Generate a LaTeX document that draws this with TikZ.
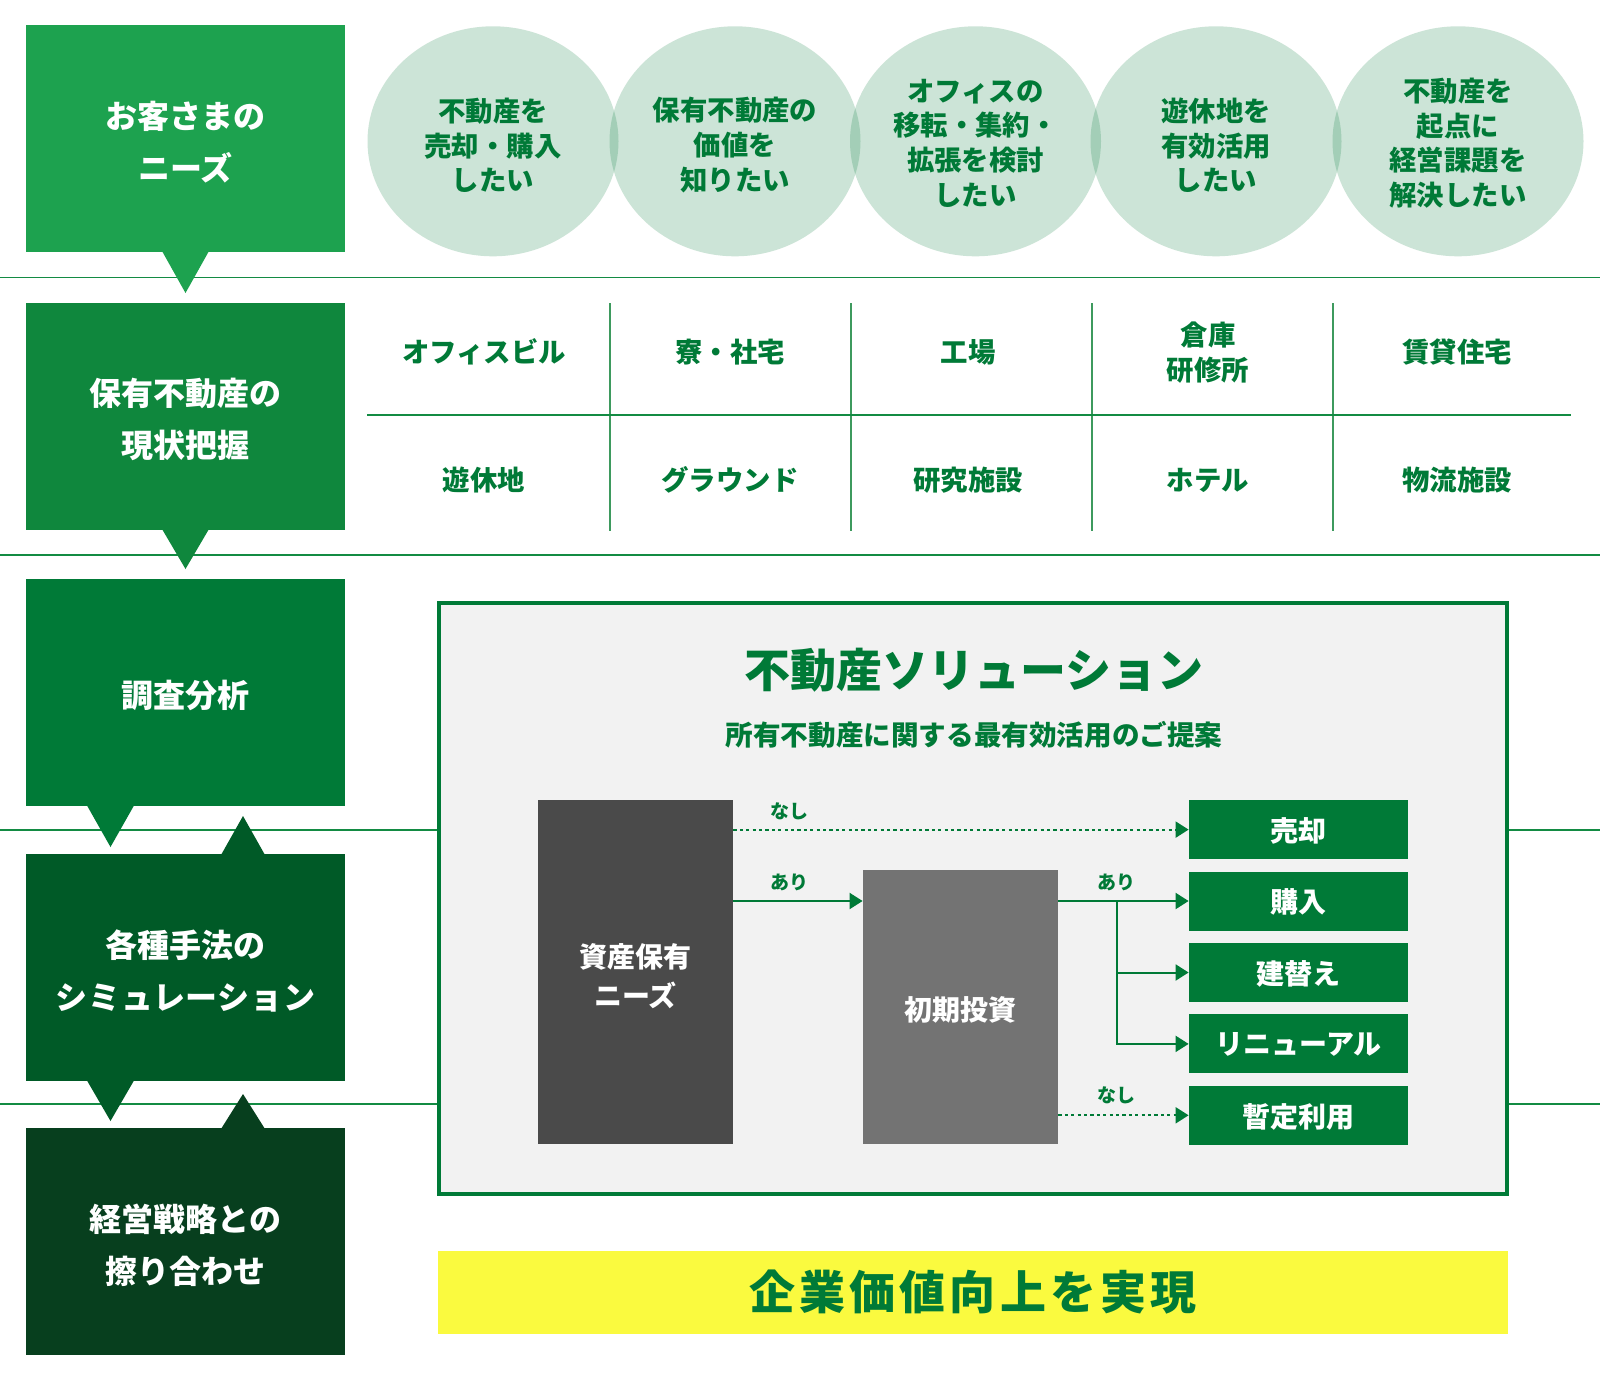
\documentclass[tikz,border=0pt]{standalone}
\usepackage{fontspec}
\setmainfont{Noto Sans CJK JP}
\usetikzlibrary{shapes.geometric,arrows.meta}
\definecolor{g1}{HTML}{1DA24F}
\definecolor{g2}{HTML}{0F873D}
\definecolor{g3}{HTML}{007A37}
\definecolor{g4}{HTML}{005A27}
\definecolor{g5}{HTML}{073F1E}
\definecolor{tg}{HTML}{007A37}
\definecolor{lineg}{HTML}{138B43}
\definecolor{gridg}{HTML}{3E9A5E}
\definecolor{dk}{HTML}{4A4A4A}
\definecolor{md}{HTML}{737373}
\definecolor{panel}{HTML}{F2F2F2}
\definecolor{yel}{HTML}{FAFA3F}
\newlength\pxu
\setlength\pxu{0.5pt}
\tikzset{
  stepbox/.style={minimum width=319\pxu, minimum height=227\pxu, inner sep=0pt},
  steptext/.style={text=white, inner sep=0pt, font=\bfseries\fontsize{16}{26}\selectfont, align=center},
  need/.style={ellipse, minimum width=251\pxu, minimum height=230\pxu, inner sep=0pt,
    fill=g3, fill opacity=0.2},
  needtext/.style={text=tg, inner sep=0pt, font=\bfseries\fontsize{13.7}{17.4}\selectfont, align=center},
  cell/.style={text=tg, font=\bfseries\fontsize{13.7}{17.5}\selectfont, align=center},
  sep/.style={draw=lineg, line width=0.7pt},
  gridline/.style={draw=gridg, line width=0.6pt},
  graybox/.style={minimum width=195\pxu, inner sep=0pt},
  graytext/.style={text=white, inner sep=0pt, font=\bfseries\fontsize{14}{19.4}\selectfont, align=center},
  outbox/.style={fill=g3, minimum width=219\pxu, minimum height=59\pxu, inner sep=0pt,
    text=white, font=\bfseries\fontsize{14}{17}\selectfont, text depth=-0.5pt},
  flow/.style={draw=g3, line width=1pt, -{Triangle[length=6.5pt,width=8pt]}},
  dflow/.style={flow, dash pattern=on 1.6pt off 1.6pt},
  lab/.style={text=tg, font=\bfseries\fontsize{9.5}{11}\selectfont},
}
\begin{document}
\begin{tikzpicture}[x=0.5pt,y=-0.5pt]
\useasboundingbox (0,0) rectangle (1600,1386);
\fill[white] (0,0) rectangle (1600,1386);

% separator lines
\draw[sep] (0,277.5) -- (1600,277.5);
\draw[sep] (0,555) -- (1600,555);
\draw[sep] (0,830) -- (1600,830);
\draw[sep] (0,1104) -- (1600,1104);

% left step boxes
\node[stepbox, fill=g1] (s1) at (185.5,138.8) {};
\node[stepbox, fill=g2] (s2) at (185.5,416.5) {};
\node[stepbox, fill=g3] (s3) at (185.5,692.7) {};
\node[stepbox, fill=g4] (s4) at (185.5,967.8) {};
\node[stepbox, fill=g5] (s5) at (185.5,1241.8) {};
\node[steptext] (t1) at ([yshift=-1.5pt]s1.center) {お客さまの\\ニーズ};
\node[steptext] (t2) at ([yshift=-1.5pt]s2.center) {保有不動産の\\現状把握};
\node[steptext] (t3) at ([yshift=-1.5pt]s3.center) {調査分析};
\node[steptext] (t4) at ([yshift=-1.5pt]s4.center) {各種手法の\\{\addfontfeatures{LetterSpace=2}シミュレーション}};
\node[steptext] (t5) at ([yshift=-1.75pt]s5.center) {経営戦略との\\擦り合わせ};

% pointers
\fill[g1] (162,251) -- (185.5,293) -- (209,251) -- cycle;
\fill[g2] (162,529) -- (185.5,569) -- (209,529) -- cycle;
\fill[g3] (87,805.5) -- (110.5,847) -- (134,805.5) -- cycle;
\fill[g4] (221,855) -- (243,816) -- (265,855) -- cycle;
\fill[g4] (87,1080.5) -- (110.5,1121) -- (134,1080.5) -- cycle;
\fill[g5] (221,1129) -- (243,1094) -- (265,1129) -- cycle;

% needs ellipses
\node[need] (n1) at (493,141.3) {};
\node[need] (n2) at (735,141.3) {};
\node[need] (n3) at (975.5,141.3) {};
\node[need] (n4) at (1216,141.3) {};
\node[need] (n5) at (1458,141.3) {};
\node[needtext] (nt1) at ([yshift=-2pt]n1.center) {不動産を\\売却・購入\\したい};
\node[needtext] (nt2) at ([yshift=-2pt]n2.center) {保有不動産の\\価値を\\知りたい};
\node[needtext] (nt3) at ([yshift=-0.9pt]n3.center) {オフィスの\\移転・集約・\\拡張を検討\\したい};
\node[needtext] (nt4) at ([yshift=-2pt]n4.center) {遊休地を\\有効活用\\したい};
\node[needtext] (nt5) at ([yshift=-0.9pt]n5.center) {不動産を\\起点に\\経営課題を\\解決したい};

% property grid
\draw[gridline] (610,303) -- (610,531);
\draw[gridline] (851,303) -- (851,531);
\draw[gridline] (1092,303) -- (1092,531);
\draw[gridline] (1333,303) -- (1333,531);
\draw[gridline, draw=lineg] (367,415) -- (1571,415);
\node[cell] (c1) at (484,352) {オフィスビル};
\node[cell] (c2) at (730,352) {寮・社宅};
\node[cell] (c3) at (968,352) {工場};
\node[cell] (c4) at (1208,352.5) {倉庫\\研修所};
\node[cell] (c5) at (1457,352) {賃貸住宅};
\node[cell] (c6) at (484,480) {遊休地};
\node[cell] (c7) at (730,480) {グラウンド};
\node[cell] (c8) at (968,480) {研究施設};
\node[cell] (c9) at (1208,480) {ホテル};
\node[cell] (c10) at (1457,480) {物流施設};

% solution panel
\node[draw=g3, line width=2pt, fill=panel, minimum width=1068\pxu, minimum height=591\pxu, inner sep=0pt] (panel) at (973,898.5) {};
\node[text=tg, font=\bfseries\fontsize{23}{27}\selectfont] (title) at (974,670) {不動産ソリューション};
\node[text=tg, font=\bfseries\fontsize{13.8}{17}\selectfont] (sub) at (974,735) {所有不動産に関する最有効活用のご提案};

\node[graybox, fill=dk, minimum height=344\pxu] (asset) at (635.5,972) {};
\node[graybox, fill=md, minimum height=274\pxu] (invest) at (960.5,1007) {};
\node[graytext] (at) at ([yshift=-2pt]asset.center) {資産保有\\ニーズ};
\node[graytext] (it) at ([yshift=-1.5pt]invest.center) {初期投資};

\node[outbox] (sell) at (1298.5,829.6) {売却};
\node[outbox] (buy) at (1298.5,901) {購入};
\node[outbox] (rebuild) at (1298.5,972.5) {建替え};
\node[outbox] (renew) at (1298.5,1043.9) {リニューアル};
\node[outbox] (temp) at (1298.5,1115.3) {暫定利用};

\draw[dflow] (asset.east |- sell.west) -- (sell.west);
\draw[flow] (asset.east |- buy.west) -- (invest.west |- buy.west);
\draw[flow] (invest.east |- buy.west) -- (buy.west);
\coordinate (br) at (1117,901);
\draw[flow] (br) |- (rebuild.west);
\draw[flow] (br) |- (renew.west);
\draw[dflow] (invest.east |- temp.west) -- (temp.west);

\node[lab] (l1) at (789,811) {なし};
\node[lab] (l2) at (789,882) {あり};
\node[lab] (l3) at (1116,882) {あり};
\node[lab] (l4) at (1116,1095) {なし};

% result bar
\node[fill=yel, minimum width=1070\pxu, minimum height=83\pxu, inner sep=0pt, text=tg,
  font=\bfseries\fontsize{23}{27}\selectfont\addfontfeatures{LetterSpace=9}] (goal) at (973,1292.5) {企業価値向上を実現};
\end{tikzpicture}
\end{document}
